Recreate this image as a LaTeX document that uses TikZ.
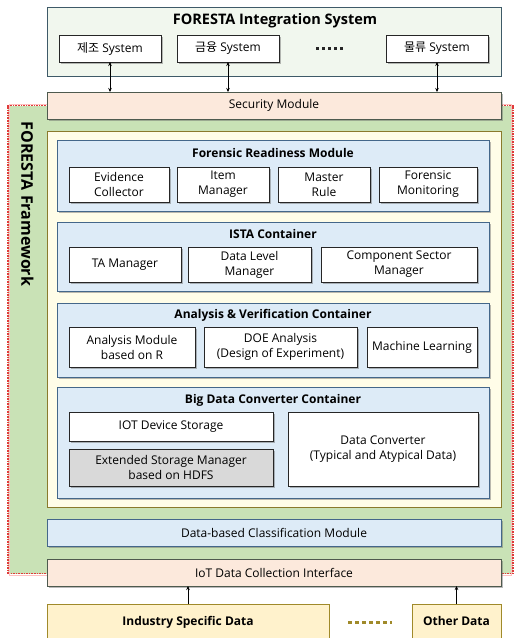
\documentclass[tikz,border=0pt]{standalone}
\usepackage{fontspec}
\setmainfont{Open Sans}
\newfontfamily\kr{Noto Sans CJK KR}
\usetikzlibrary{shadows,arrows.meta}

\definecolor{intfill}{HTML}{F1F7EE}
\definecolor{intline}{HTML}{3E5A68}
\definecolor{fwfill}{HTML}{C9E2B6}
\definecolor{fwline}{HTML}{E03A3A}
\definecolor{ctrfill}{HTML}{FFFDE8}
\definecolor{ctrline}{HTML}{8A7A2C}
\definecolor{bluefill}{HTML}{DDEBF7}
\definecolor{blueline}{HTML}{44678A}
\definecolor{peachfill}{HTML}{FCE9DC}
\definecolor{peachline}{HTML}{4E5A4E}
\definecolor{srcfill}{HTML}{FFF2CC}
\definecolor{srcline}{HTML}{A08A2A}
\definecolor{grayfill}{HTML}{D9D9D9}

\tikzset{
  shade/.style={drop shadow={shadow xshift=1.6pt,shadow yshift=-1.6pt,opacity=0.45,fill=black!60}},
  blk/.style={rectangle,inner sep=0pt,outer sep=0pt,align=center,font=\fontsize{12}{15}\selectfont},
  panel/.style={blk,draw=intline,fill=intfill,line width=0.9pt},
  band/.style={blk,draw=peachline,fill=peachfill,line width=0.9pt,shade},
  ctr/.style={blk,draw=ctrline,fill=ctrfill,line width=0.9pt},
  group/.style={blk,draw=blueline,fill=bluefill,line width=0.9pt,shade},
  item/.style={blk,draw=black!85,fill=white,line width=0.9pt,shade},
  graybox/.style={item,fill=grayfill},
  source/.style={blk,draw=srcline,fill=srcfill,line width=0.9pt},
  heading/.style={inner sep=0pt,text height=9pt,text depth=2.5pt,font=\bfseries\fontsize{12}{14}\selectfont},
  bigheading/.style={inner sep=0pt,text height=10.5pt,text depth=3pt,font=\bfseries\fontsize{14.5}{17}\selectfont},
  link/.style={line width=0.5pt,-{Stealth[length=4pt,width=3.5pt]}},
  biglink/.style={line width=0.5pt,{Stealth[length=4pt,width=3.5pt]}-{Stealth[length=4pt,width=3.5pt]}},
}

% box given by its corners (x1,y1) and (x2,y2)
\newcommand{\boxat}[7]{\node[#2,minimum width={#5-#3},minimum height={#6-#4}] (#1) at ({(#3+#5)/2},{(#4+#6)/2}) {#7};}

\begin{document}
\begin{tikzpicture}[x=1pt,y=-1pt]
\useasboundingbox (0,0) rectangle (514,638);
\clip (0,0) rectangle (514,638);
\fill[white] (0,0) rectangle (514,638);

% framework area
\boxat{fw}{blk,fill=fwfill,draw=fwline,densely dotted,line width=1.6pt}{8}{105.5}{513}{573.5}{}
\draw[red!25,line width=0.5pt] ([shift={(1.5,-1.5)}]fw.north west) rectangle ([shift={(-1.5,1.5)}]fw.south east);
\node[bigheading,font=\bfseries\fontsize{16}{18}\selectfont,rotate=-90] (fwtitle) at (25,204) {FORESTA Framework};

% integration system
\boxat{ints}{panel}{47}{7}{501}{76}{}
\node[bigheading] (intstitle) at (275,21) {FORESTA Integration System};
\boxat{s1}{item}{59}{35}{161}{62}{{\kr 제조} System}
\boxat{s2}{item}{177}{35}{279}{62}{{\kr 금융} System}
\boxat{s3}{item}{386}{35}{488}{62}{{\kr 물류} System}
\coordinate (gapL) at (316,48);
\coordinate (gapR) at (343,48);
\draw[line width=3pt,dash pattern=on 3pt off 3pt,black!85] (gapL) -- (gapR);

% security band
\boxat{sec}{band}{47}{92}{501}{119}{Security Module}
\draw[biglink] (s1.south) -- (s1.south |- sec.north);
\draw[biglink] (s2.south) -- (s2.south |- sec.north);
\draw[biglink] (s3.south) -- (s3.south |- sec.north);

% containers
\boxat{core}{ctr}{47}{131}{501}{507}{}

\boxat{frm}{group}{57}{140}{489}{211}{}
\node[heading] (frmtitle) at (273,154) {Forensic Readiness Module};
\boxat{f1}{item}{69}{167}{169}{202}{Evidence\\Collector}
\boxat{f2}{item}{177}{167}{269}{202}{Item\\Manager}
\boxat{f3}{item}{278}{167}{370}{202}{Master\\Rule}
\boxat{f4}{item}{379}{167}{477}{202}{Forensic\\Monitoring}

\boxat{ista}{group}{57}{222}{489}{291}{}
\node[heading] (istatitle) at (273,235) {ISTA Container};
\boxat{i1}{item}{69}{247}{181}{282}{TA Manager}
\boxat{i2}{item}{188}{247}{311}{282}{Data Level\\Manager}
\boxat{i3}{item}{321}{247}{477}{282}{Component Sector\\Manager}

\boxat{ana}{group}{57}{303}{489}{377}{}
\node[heading] (anatitle) at (273,315) {Analysis \& Verification Container};
\boxat{a1}{item}{69}{327}{195}{367}{Analysis Module\\based on R}
\boxat{a2}{item}{204}{327}{357}{367}{DOE Analysis\\(Design of Experiment)}
\boxat{a3}{item}{367}{327}{477}{367}{Machine Learning}

\boxat{bdc}{group}{57}{387}{489}{498}{}
\node[heading] (bdctitle) at (273,400) {Big Data Converter Container};
\boxat{b1}{item}{69}{412}{273}{441}{IOT Device Storage}
\boxat{b2}{graybox}{69}{449}{273}{486}{Extended Storage Manager\\based on HDFS}
\boxat{b3}{item}{288}{412}{478}{486}{Data Converter\\(Typical and Atypical Data)}

\boxat{cls}{group}{47}{519}{501}{546}{Data-based Classification Module}

% collection interface and data sources
\boxat{iot}{band}{47}{559}{501}{586}{IoT Data Collection Interface}
\boxat{ind}{source}{47}{604}{329}{641}{}
\node[heading] (indtext) at (188,622) {Industry Specific Data};
\boxat{oth}{source}{412}{604}{501}{641}{}
\node[heading] (othtext) at (456.5,622) {Other Data};
\coordinate (dotL) at (348,622);
\coordinate (dotR) at (392,622);
\draw[line width=3pt,dash pattern=on 4pt off 3pt,srcline] (dotL) -- (dotR);

\draw[link] (ind.north) -- (ind.north |- iot.south);
\draw[link] (oth.north) -- (oth.north |- iot.south);
\end{tikzpicture}
\end{document}
